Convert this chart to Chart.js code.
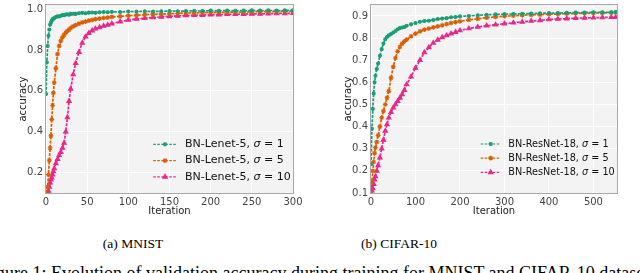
<!DOCTYPE html>
<html>
<head>
<meta charset="utf-8">
<script src="https://cdn.jsdelivr.net/npm/chart.js@4.4.0/dist/chart.umd.min.js"></script>
<style>
html,body{margin:0;padding:0;background:#fff;width:640px;height:273px;overflow:hidden;}
body{position:relative;}
canvas{position:absolute;top:0;}
#c1{left:0;}
#c2{left:320px;}
.sub{position:absolute;top:237px;font-family:"Liberation Serif","Times New Roman",serif;font-size:13.5px;line-height:13.5px;color:#000;white-space:nowrap;transform:translateX(-50%);}
#cap{position:absolute;top:263.5px;font-family:"Liberation Serif","Times New Roman",serif;font-size:18px;line-height:18px;color:#000;white-space:nowrap;}
</style>
</head>
<body>
<canvas id="c1" width="310" height="220"></canvas>
<canvas id="c2" width="320" height="220"></canvas>
<div class="sub" id="subA" style="left:133px;">(a) MNIST</div>
<div class="sub" id="subB" style="left:399px;">(b) CIFAR-10</div>
<div id="cap"><span id="capPre">Figure 1: Evolution of validation accuracy during training for </span><span>MNIST and CIFAR-10 datasets.</span></div>
<script>
// ---------------- DATA ----------------
const mnistIter = [0,1,2,3,4,5,6,7,8,9,10,12,14,16,18,20,22,24,26,28,30,33,36,40,44,48,52,56,60,65,70,75,80,90,100,110,120,130,140,150,160,170,180,190,200,210,220,230,240,250,260,270,280,290,300];
const mnistSigma1 = [0.585,0.74,0.82,0.87,0.90,0.925,0.935,0.944,0.95,0.953,0.957,0.962,0.965,0.964,0.968,0.971,0.970,0.974,0.975,0.973,0.977,0.978,0.977,0.980,0.982,0.980,0.983,0.984,0.982,0.985,0.986,0.985,0.987,0.986,0.989,0.988,0.990,0.989,0.990,0.991,0.990,0.991,0.992,0.991,0.993,0.992,0.993,0.992,0.993,0.994,0.993,0.994,0.993,0.994,0.994];
const mnistSigma5 = [0.10,0.10,0.13,0.19,0.26,0.32,0.38,0.46,0.53,0.59,0.64,0.71,0.78,0.82,0.845,0.862,0.874,0.885,0.893,0.900,0.908,0.916,0.922,0.929,0.935,0.939,0.944,0.947,0.951,0.954,0.957,0.959,0.962,0.965,0.968,0.970,0.973,0.975,0.976,0.978,0.979,0.981,0.982,0.983,0.984,0.984,0.985,0.986,0.986,0.987,0.988,0.988,0.989,0.989,0.990];
const mnistSigma10 = [0.10,0.10,0.10,0.11,0.13,0.15,0.165,0.175,0.19,0.205,0.22,0.245,0.265,0.285,0.30,0.32,0.345,0.40,0.47,0.55,0.61,0.68,0.735,0.79,0.835,0.865,0.883,0.895,0.904,0.911,0.918,0.923,0.929,0.939,0.947,0.952,0.956,0.959,0.962,0.965,0.967,0.969,0.970,0.971,0.973,0.973,0.975,0.975,0.976,0.977,0.977,0.978,0.979,0.979,0.980];

const cifarIter = [0,2,4,6,8,10,13,16,20,24,28,32,36,40,45,50,55,60,65,70,75,80,90,100,110,120,130,140,150,160,170,180,190,200,220,240,260,280,300,320,340,360,380,400,420,440,460,480,500,520,540,550];
const cifarSigma1 = [0.23,0.39,0.48,0.55,0.60,0.63,0.66,0.685,0.72,0.75,0.775,0.795,0.805,0.812,0.818,0.825,0.832,0.84,0.845,0.848,0.85,0.856,0.862,0.868,0.874,0.877,0.878,0.882,0.886,0.888,0.89,0.894,0.895,0.898,0.90,0.903,0.905,0.907,0.908,0.909,0.91,0.911,0.912,0.913,0.913,0.914,0.915,0.915,0.917,0.916,0.917,0.918];
const cifarSigma5 = [0.10,0.15,0.20,0.24,0.28,0.305,0.33,0.36,0.40,0.44,0.47,0.50,0.53,0.56,0.62,0.67,0.71,0.74,0.76,0.775,0.785,0.793,0.808,0.82,0.83,0.838,0.843,0.848,0.853,0.858,0.863,0.868,0.872,0.876,0.882,0.887,0.892,0.896,0.899,0.901,0.903,0.905,0.906,0.908,0.909,0.91,0.911,0.912,0.913,0.914,0.915,0.916];
const cifarSigma10 = [0.10,0.11,0.12,0.14,0.16,0.175,0.20,0.225,0.26,0.30,0.34,0.38,0.41,0.44,0.465,0.485,0.50,0.515,0.53,0.545,0.565,0.59,0.625,0.665,0.70,0.735,0.758,0.778,0.792,0.803,0.812,0.82,0.827,0.834,0.843,0.85,0.856,0.86,0.865,0.869,0.873,0.877,0.88,0.884,0.886,0.888,0.89,0.891,0.892,0.893,0.894,0.894];

const mnistXTicks = [0,50,100,150,200,250,300];
const mnistYTicks = [0.2,0.4,0.6,0.8,1.0];
const cifarXTicks = [0,100,200,300,400,500];
const cifarYTicks = [0.1,0.2,0.3,0.4,0.5,0.6,0.7,0.8,0.9];

const mnistNames = ["BN-Lenet-5, ","BN-Lenet-5, ","BN-Lenet-5, "];
const cifarNames = ["BN-ResNet-18, ","BN-ResNet-18, ","BN-ResNet-18, "];
const sigmas = [1,5,10];
const xTitle = "Iteration";
const yTitle = "accuracy";

// ---------------- STYLE ----------------
const colors = ["#1b9e77","#d95f02","#e7298a"];
const pStyles = ["circle","star","triangle"];
const pRadius = [1.5,2.4,2.5];
const FONT = '"DejaVu Sans", Verdana, sans-serif';

const bgPlugin = {
  id: 'bgPlugin',
  beforeDraw(chart) {
    const a = chart.chartArea, ctx = chart.ctx;
    ctx.save();
    ctx.fillStyle = '#f3f3f3';
    ctx.fillRect(a.left, a.top, a.right - a.left, a.bottom - a.top);
    ctx.restore();
  },
  beforeDatasetsDraw(chart) {
    const a = chart.chartArea, ctx = chart.ctx;
    ctx.save();
    ctx.strokeStyle = '#a8a8a8';
    ctx.lineWidth = 1;
    ctx.strokeRect(Math.round(a.left) - 0.5, Math.round(a.top) - 0.5, Math.round(a.right - a.left) + 1, Math.round(a.bottom - a.top) + 1);
    ctx.restore();
  }
};

const legendPlugin = {
  id: 'mplLegend',
  afterDatasetsDraw(chart, args, o) {
    const ctx = chart.ctx;
    ctx.save();
    chart.data.datasets.forEach((ds, i) => {
      const y = o.y0 + i * o.dy;
      ctx.strokeStyle = ds.borderColor;
      ctx.fillStyle = ds.borderColor;
      ctx.lineWidth = 1.2;
      ctx.setLineDash([2.5, 1.5]);
      ctx.beginPath(); ctx.moveTo(o.x0, y); ctx.lineTo(o.x1, y); ctx.stroke();
      ctx.setLineDash([]);
      Chart.helpers.drawPoint(ctx, {pointStyle: ds.pointStyle, radius: ds.pointRadius, borderWidth: 1, rotation: 0}, (o.x0 + o.x1) / 2, y);
      ctx.fillStyle = '#111';
      ctx.textBaseline = 'middle';
      ctx.textAlign = 'left';
      let x = o.tx;
      ctx.font = o.size + 'px ' + FONT;
      ctx.fillText(o.names[i], x, y); x += ctx.measureText(o.names[i]).width;
      ctx.font = 'italic ' + o.size + 'px ' + FONT;
      ctx.fillText('σ', x, y); x += ctx.measureText('σ').width;
      ctx.font = o.size + 'px ' + FONT;
      ctx.fillText(' = ' + o.sig[i], x, y);
    });
    ctx.restore();
  }
};

function makeChart(id, iter, series, xTicks, yTicks, xMax, yMin, yMax, axisW, padR, yTitlePad, legend) {
  const datasets = series.map((s, i) => ({
    label: legend.names[i] + 'σ = ' + legend.sig[i],
    data: iter.map((x, j) => ({x: x, y: s[j]})),
    borderColor: colors[i],
    backgroundColor: colors[i],
    borderWidth: 1.7,
    borderDash: [3, 1.2],
    pointStyle: pStyles[i],
    pointRadius: pRadius[i],
    pointBorderWidth: 1.1,
    pointBackgroundColor: colors[i],
    pointBorderColor: colors[i],
    tension: 0,
    clip: 0
  }));
  return new Chart(document.getElementById(id), {
    type: 'line',
    data: {datasets: datasets},
    plugins: [bgPlugin, legendPlugin],
    options: {
      responsive: false,
      animation: false,
      devicePixelRatio: 1,
      layout: {padding: {left: 0, top: 1, right: padR, bottom: 0}},
      plugins: {
        legend: {display: false},
        tooltip: {enabled: false},
        mplLegend: legend
      },
      scales: {
        x: {
          type: 'linear', min: 0, max: xMax,
          afterBuildTicks: s => { s.ticks = xTicks.map(v => ({value: v})); },
          afterFit: s => { s.height = 27; s.paddingLeft = 0; s.paddingRight = 0; s.paddingTop = 0; s.paddingBottom = 0; },
          grid: {color: '#ffffff', lineWidth: 1, drawTicks: false},
          border: {display: false},
          ticks: {autoSkip: false, maxRotation: 0, padding: 3, color: '#444', font: {family: FONT, size: 10}, callback: v => String(v)},
          title: {display: true, text: xTitle, color: '#222', font: {family: FONT, size: 10}, padding: {top: 0, bottom: 2.5}}
        },
        y: {
          type: 'linear', min: yMin, max: yMax,
          afterBuildTicks: s => { s.ticks = yTicks.map(v => ({value: v})); },
          afterFit: s => { s.width = axisW; s.paddingLeft = 0; s.paddingRight = 0; s.paddingTop = 0; s.paddingBottom = 0; },
          grid: {color: '#ffffff', lineWidth: 1, drawTicks: false},
          border: {display: false},
          ticks: {autoSkip: false, padding: 3, color: '#444', font: {family: FONT, size: 10}, callback: v => v.toFixed(1)},
          title: {display: true, text: yTitle, color: '#222', font: {family: FONT, size: 10}, padding: {top: yTitlePad, bottom: 0}}
        }
      }
    }
  });
}

makeChart('c1', mnistIter, [mnistSigma1, mnistSigma5, mnistSigma10], mnistXTicks, mnistYTicks,
  300, 0.1, 1.02, 46, 17, 17,
  {x0: 153.3, x1: 176.7, y0: 144.3, dy: 16.3, tx: 185, size: 11, names: mnistNames, sig: sigmas});
makeChart('c2', cifarIter, [cifarSigma1, cifarSigma5, cifarSigma10], cifarXTicks, cifarYTicks,
  553, 0.1, 0.949, 51, 23, 22,
  {x0: 160.7, x1: 180.7, y0: 144, dy: 14.2, tx: 188.3, size: 9.7, names: cifarNames, sig: sigmas});

// caption placement: "MNIST" of the caption line begins at x≈428
const pre = document.getElementById('capPre');
document.getElementById('cap').style.left = (428 - pre.offsetWidth) + 'px';
</script>
</body>
</html>
